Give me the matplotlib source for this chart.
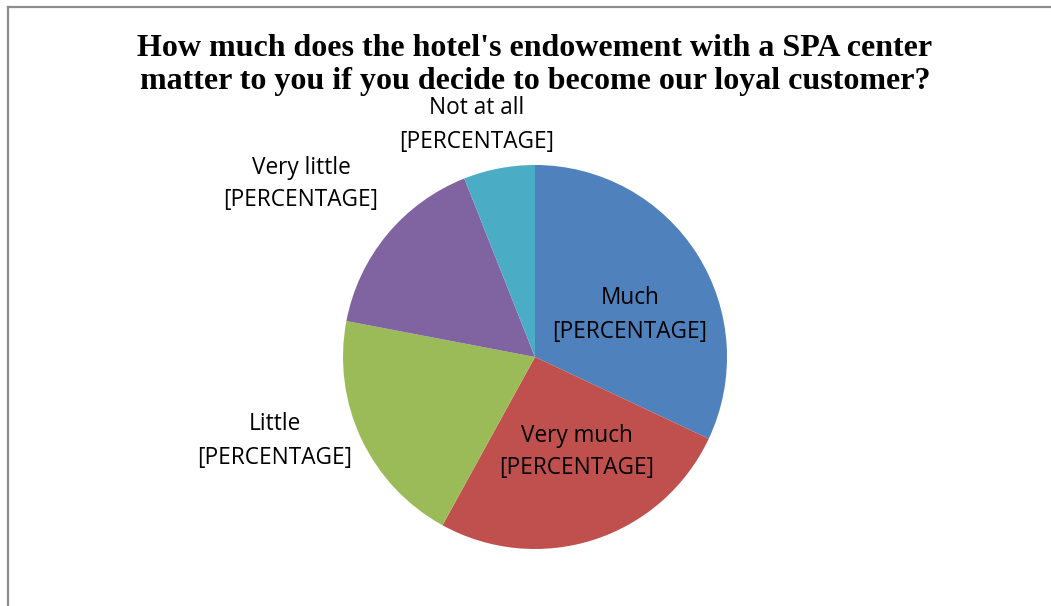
import matplotlib
matplotlib.use("Agg")
import matplotlib.pyplot as plt
from matplotlib.lines import Line2D

categories = ["Much", "Very much", "Little", "Very little", "Not at all"]
values = [32, 26, 20, 16, 6]
label_texts = ["[PERCENTAGE]"] * 5
colors = ["#4F81BD", "#C0504D", "#9BBB59", "#8064A2", "#4BACC6"]
title = "How much does the hotel's endowement with a SPA center\nmatter to you if you decide to become our loyal customer?"

W, H, DPI = 1051, 606, 100
fig = plt.figure(figsize=(W / DPI, H / DPI), dpi=DPI)
fig.patch.set_facecolor("white")

# pie geometry in pixels
cx, cy, R = 535, 357, 192
ax = fig.add_axes([0, 0, 1, 1])

ax.pie(values, colors=colors, startangle=90, counterclock=False, radius=1.0,
       center=(0, 0), frame=True, wedgeprops=dict(linewidth=0))
ax.set_xlim(-cx / R, (W - cx) / R)
ax.set_ylim(-(H - cy) / R, cy / R)
ax.set_aspect("auto")
ax.axis("off")

# label positions (pixel centres of text blocks)
label_pos = [(630, 315), (577, 452), (275, 441), (301, 184), (477, 125)]
for cat, lt, (px, py) in zip(categories, label_texts, label_pos):
    x = (px - cx) / R
    y = (cy - py) / R
    ax.text(x, y, f"{cat}\n{lt}", ha="center", va="center", fontsize=16.3,
            family="Open Sans", color="black", linespacing=1.5)

fig.text(535 / W, 1 - 65 / H, title, ha="center", va="center",
         fontsize=23, family="Liberation Serif", fontweight="bold",
         linespacing=1.22)

# frame lines (left and top)
fig.add_artist(Line2D([7.5 / W, 7.5 / W], [0, 1 - 6.5 / H], color="#8C8C8C",
                      linewidth=1.6, transform=fig.transFigure))
fig.add_artist(Line2D([7.5 / W, 1], [1 - 6.5 / H, 1 - 6.5 / H], color="#8C8C8C",
                      linewidth=1.6, transform=fig.transFigure))

fig.savefig("out.png", dpi=DPI)
